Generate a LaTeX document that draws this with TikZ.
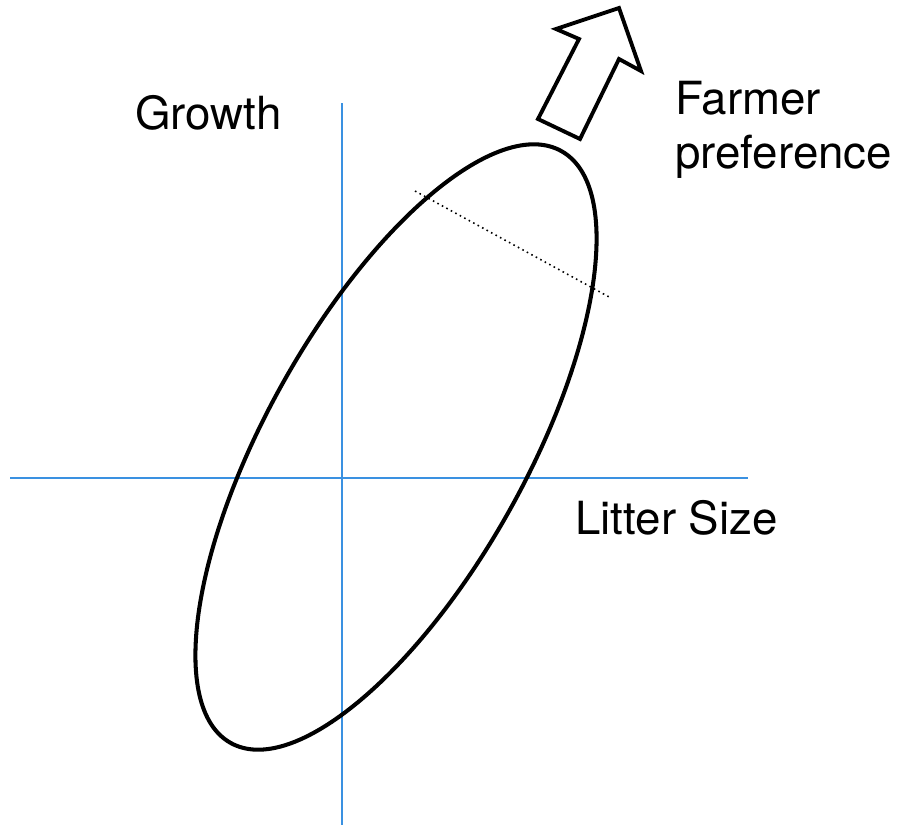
\documentclass[tikz,border=0pt]{standalone}
\usepackage{fontspec}
\setmainfont{TeX Gyre Heros}
\usepackage{tikz}
\usetikzlibrary{positioning}
\definecolor{axisblue}{RGB}{58, 145, 225}

\begin{document}
\begin{tikzpicture}[
    x=0.02cm, y=0.02cm,
    axisline/.style={axisblue, line width=1.1pt},
    traitcloud/.style={black, line width=2.3pt},
    prefarrow/.style={black, line width=2.2pt, line join=miter},
    crossline/.style={black, line width=0.9pt, dotted},
    axislabel/.style={inner sep=0pt, anchor=base west, font=\fontsize{26}{30.6}\selectfont, align=left}
]
    \useasboundingbox (0,0) rectangle (909,-825);

    % Axes
    \coordinate (ytop) at (342,-103);
    \coordinate (ybot) at (342,-825);
    \coordinate (xleft) at (10,-478);
    \coordinate (xright) at (748,-478);
    \draw[axisline] (ytop) -- (ybot);
    \draw[axisline] (xleft) -- (xright);

    % Ellipse of the two traits
    \draw[traitcloud] (396,-447) ellipse [x radius=339, y radius=130, rotate=60.8];

    % Dotted cross section
    \coordinate (dotA) at (415,-191);
    \coordinate (dotB) at (611,-298);
    \draw[crossline] (dotA) -- (dotB);

    % Block arrow
    \draw[prefarrow] (538,-119) -- (579,-39) -- (556,-29) -- (619,-8)
        -- (641,-71) -- (619,-59) -- (580,-139) -- cycle;

    % Labels
    \node[axislabel] (growth) at (135,-129) {Growth};
    \node[axislabel] (farmer) at (675,-168) {Farmer\\preference};
    \node[axislabel] (litter) at (575,-534) {Litter Size};
\end{tikzpicture}
\end{document}
